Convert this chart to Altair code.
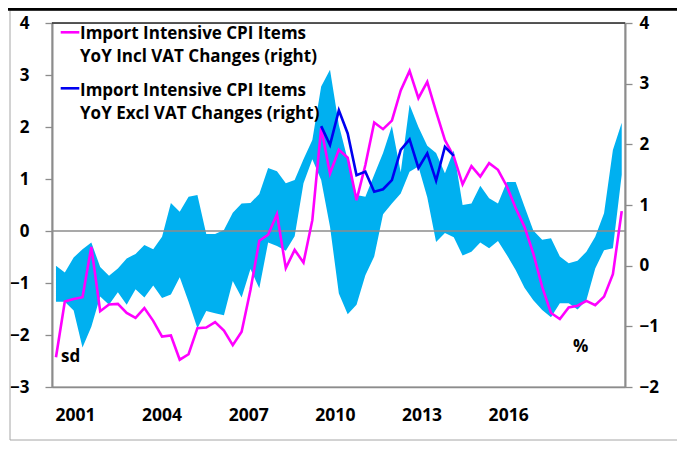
import altair as alt
import pandas as pd

# ---- data ----
years = ["2001", "2004", "2007", "2010", "2013", "2016"]
label_pos = [2.15, 11.95, 21.75, 31.55, 41.35, 51.15]

band_upper = [-0.67, -0.80, -0.51, -0.35, -0.22, -0.69, -0.86, -0.72, -0.53, -0.44,
              -0.27, -0.35, -0.11, 0.54, 0.37, 0.66, 0.69, -0.06, -0.06, 0.02,
              0.35, 0.53, 0.54, 0.71, 1.21, 1.15, 0.92, 0.98, 1.38, 1.75,
              2.78, 3.10, 2.04, 1.37, 0.69, 0.66, 1.08, 1.50, 2.02, 1.13,
              2.43, 2.00, 1.64, 1.50, 1.11, 1.55, 0.50, 0.53, 0.87, 0.63,
              0.53, 0.94, 0.94, 0.47, 0.01, -0.17, -0.14, -0.49, -0.62, -0.57,
              -0.40, -0.11, 0.34, 1.56, 2.08]
band_lower = [-1.36, -1.36, -1.53, -2.24, -1.84, -1.26, -1.42, -1.18, -1.42, -1.12,
              -1.28, -1.05, -1.29, -1.22, -0.89, -1.36, -1.87, -1.54, -1.58, -1.62,
              -0.96, -1.28, -0.73, -1.10, -0.22, -0.29, -0.38, -0.10, 0.92, 1.38,
              0.98, 0.08, -1.20, -1.60, -1.42, -0.85, -0.49, 0.32, 0.53, 0.72,
              1.14, 1.24, 0.65, -0.21, -0.04, -0.12, -0.47, -0.40, -0.22, -0.33,
              -0.19, -0.46, -0.75, -1.09, -1.33, -1.52, -1.66, -1.39, -1.39, -1.51,
              -1.33, -0.72, -0.37, -0.33, 1.08]
incl_vat = [-1.51, -0.59, -0.55, -0.52, 0.31, -0.75, -0.64, -0.63, -0.78, -0.86,
            -0.70, -0.91, -1.17, -1.15, -1.55, -1.46, -1.03, -1.02, -0.93, -1.07,
            -1.31, -1.09, -0.40, 0.41, 0.51, 0.85, -0.04, 0.26, 0.05, 0.75,
            2.27, 1.52, 1.91, 1.78, 1.08, 1.66, 2.36, 2.25, 2.39, 2.89,
            3.21, 2.76, 3.03, 2.54, 2.07, 1.80, 1.34, 1.64, 1.47, 1.69,
            1.58, 1.31, 0.95, 0.64, 0.20, -0.35, -0.78, -0.88, -0.69, -0.66,
            -0.58, -0.65, -0.51, -0.14, 0.90]
excl_start = 30
excl_vat = [2.30, 1.99, 2.56, 2.18, 1.49, 1.55, 1.22, 1.26, 1.41, 1.91,
            2.08, 1.61, 1.85, 1.40, 1.96, 1.81]

legend_lines = ["Import Intensive CPI Items", "YoY Incl VAT Changes (right)",
                "Import Intensive CPI Items", "YoY Excl VAT Changes (right)"]

n = len(band_upper)
band_df = pd.DataFrame({"i": list(range(n)), "lo": band_lower, "hi": band_upper})
incl_df = pd.DataFrame({"i": list(range(n)), "v": incl_vat})
excl_df = pd.DataFrame({"i": list(range(excl_start, excl_start + len(excl_vat))), "v": excl_vat})

FONT = "Open Sans"
GREY = "#8c8c8c"
BAND = "#00B0F0"
MAGENTA = "#FF00FF"
BLUE = "#0000F0"

# x-axis label expression
expr = ""
for k, (p, y) in enumerate(zip(label_pos, years)):
    if k < len(years) - 1:
        expr += f"datum.value < {p + 4.9} ? '{y}' : "
    else:
        expr += f"'{y}'"

xscale = alt.Scale(domain=[-0.45, 64.37], nice=False, zero=False)
xaxis = alt.Axis(values=label_pos, labelExpr=expr, title=None, ticks=False,
                 domainColor=GREY, domainWidth=1.3, labelPadding=19, grid=False,
                 labelFont=FONT, labelFontSize=17.5, labelFontWeight="bold",
                 labelColor="black", labelAngle=0)

left_scale = alt.Scale(domain=[-3, 4], nice=False, zero=False)
right_scale = alt.Scale(domain=[-2, 4], nice=False, zero=False)

left_axis = alt.Axis(orient="left", values=list(range(-3, 5)), title=None, grid=False,
                     tickSize=7, tickColor=GREY, tickWidth=1.3, domainColor=GREY,
                     domainWidth=2, labelPadding=16, labelFont=FONT, labelFontSize=17,
                     labelFontWeight="bold", labelColor="black", format="d")
right_axis = alt.Axis(orient="right", values=list(range(-2, 5)), title=None, grid=False,
                      tickSize=7, tickColor=GREY, tickWidth=1.3, domainColor=GREY,
                      domainWidth=2, labelPadding=7, labelFont=FONT, labelFontSize=17,
                      labelFontWeight="bold", labelColor="black", format="d")

band = alt.Chart(band_df).mark_area(color=BAND, opacity=1).encode(
    x=alt.X("i:Q", scale=xscale, axis=xaxis),
    y=alt.Y("lo:Q", scale=left_scale, axis=left_axis),
    y2="hi:Q",
)
zero = alt.Chart(alt.Data(values=[{"z": 0}])).mark_rule(color=GREY, strokeWidth=1.3).encode(
    y=alt.datum(0)
)
left = alt.layer(band, zero)

incl = alt.Chart(incl_df).mark_line(color=MAGENTA, strokeWidth=2.6).encode(
    x=alt.X("i:Q", scale=xscale, axis=xaxis),
    y=alt.Y("v:Q", scale=right_scale, axis=right_axis),
)
excl = alt.Chart(excl_df).mark_line(color=BLUE, strokeWidth=2.6).encode(
    x=alt.X("i:Q", scale=xscale, axis=xaxis),
    y=alt.Y("v:Q", scale=right_scale, axis=right_axis),
)
right = alt.layer(incl, excl)

one = alt.Data(values=[{"a": 1}])

def txt(s, x, y, size=17):
    return alt.Chart(one).mark_text(
        text=s, align="left", baseline="alphabetic", font=FONT, fontSize=size,
        fontWeight="bold", color="black"
    ).encode(x=alt.value(x), y=alt.value(y))

def seg(x1, x2, y, color, w=2.6):
    return alt.Chart(one).mark_rule(color=color, strokeWidth=w).encode(
        x=alt.value(x1), x2=alt.value(x2), y=alt.value(y)
    )

decor = alt.layer(
    seg(8.7, 27.3, 9.3, MAGENTA),
    seg(8.7, 27.3, 65.3, BLUE),
    txt(legend_lines[0], 28, 16),
    txt(legend_lines[1], 28, 39.3),
    txt(legend_lines[2], 28, 73),
    txt(legend_lines[3], 28, 96.3),
    txt("sd", 9, 338.7),
    txt("%", 521, 329),
    seg(0, 573, 0, "#333333", 1.3),
    alt.Chart(one).mark_rect(fill=None, stroke="#a6a6a6", strokeWidth=1).encode(
        x=alt.value(-42), x2=alt.value(628), y=alt.value(-13), y2=alt.value(417)
    ),
    seg(-44, 625, -14, "black", 3.5),
)

chart = alt.layer(left, right, decor).resolve_scale(y="independent").properties(
    width=573, height=364,
    autosize=alt.AutoSizeParams(type="none"),
    padding={"left": 44, "top": 15, "right": 52, "bottom": 65},
    background="white",
).configure_view(stroke=GREY, strokeWidth=1.3)

chart.save("out.html", embed_options={"renderer": "svg", "actions": False})
